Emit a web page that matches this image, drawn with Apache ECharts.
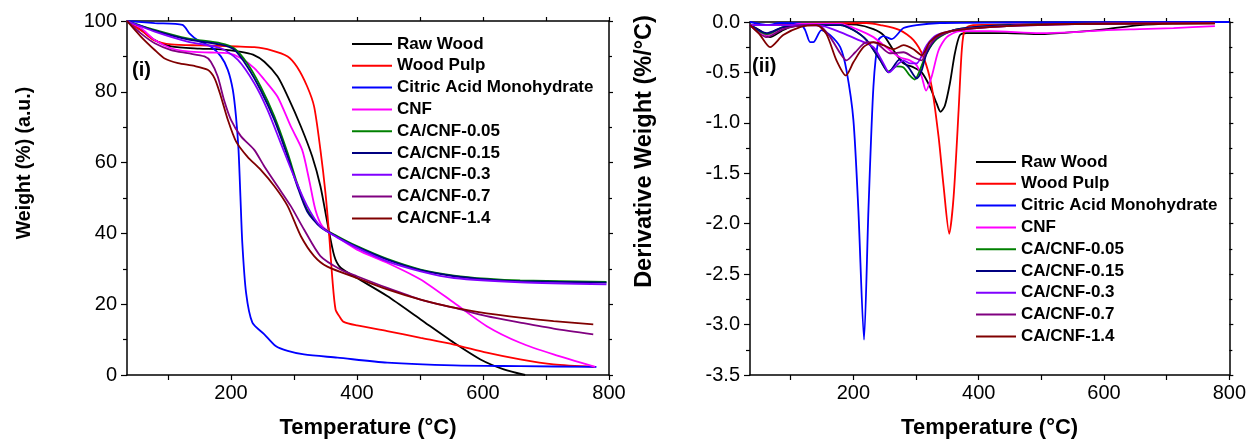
<!DOCTYPE html>
<html>
<head>
<meta charset="utf-8">
<script src="https://cdn.jsdelivr.net/npm/echarts@6/dist/echarts.min.js"></script>
<style>
  html, body { margin: 0; padding: 0; background: #fff; }
  #chart { width: 1249px; height: 444px; }
</style>
</head>
<body>
<div id="chart"></div>
<script>
const seriesNames = ['Raw Wood', 'Wood Pulp', 'Citric Acid Monohydrate', 'CNF', 'CA/CNF-0.05', 'CA/CNF-0.15', 'CA/CNF-0.3', 'CA/CNF-0.7', 'CA/CNF-1.4'];
const seriesColors = ['#000000', '#ff0000', '#0000ff', '#ff00ff', '#008000', '#000080', '#8000ff', '#800080', '#800000'];

const xTicks = [100, 200, 300, 400, 500, 600, 700, 800];
const xLabels = [200, 400, 600, 800];

// (i) weight (%) vs temperature
const rawWoodTGA = [[35,100],[57,97.5],[79,94.6],[105,92.8],[150,92.2],[184,92],[216,91.3],[235,90.5],[253,88.5],[274,84.3],[290,78.7],[311,70.2],[329,61.7],[342,53.3],[353,43],[364,33.6],[374,30.3],[400,27.4],[448,22.3],[501,15.7],[554,9.1],[596,4.4],[633,1.6],[667,0]];
const woodPulpTGA = [[35,100],[60,97],[79,94.5],[105,93.4],[150,93.1],[210,92.8],[237,92.6],[263,91.8],[290,90],[305,87],[321,81.5],[332,75.8],[342,63.6],[350,51.4],[356,39.2],[361,27],[366,18.5],[372,16.6],[379,15],[400,14],[448,12.4],[501,10.5],[554,8.6],[606,6.3],[659,4.4],[712,3],[778,2.3]];
const citricTGA = [[35,100],[79,99.4],[123,98.9],[134,96.5],[147,94.6],[168,92.8],[184,90],[195,86.2],[203,80.5],[208,73],[212,63.6],[215,50.5],[218,37.3],[224,23.2],[234,14.8],[253,11.5],[271,8.2],[290,6.8],[316,5.8],[369,4.9],[448,3.5],[554,2.7],[659,2.5],[780,2.3]];
const cnfTGA = [[35,100],[57,98],[79,94.6],[105,92.3],[131,91.4],[168,91.1],[195,90.9],[216,89.5],[237,86.7],[253,83.4],[274,78.6],[295,70.2],[313,63.6],[324,55.2],[334,46.7],[345,42],[360,40],[400,35.4],[448,31.7],[501,27],[554,20.4],[606,13.8],[659,9.1],[712,5.8],[778,2.3]];
const ca005TGA = [[35,100],[79,97.5],[131,95.1],[184,93.7],[205,92.3],[226,88],[247,81.5],[269,73],[290,62.7],[305,54.2],[321,46.7],[342,42],[369,39.2],[400,36.4],[448,32.8],[501,29.8],[554,28.1],[606,27.2],[659,26.7],[796,26.3]];
const ca015TGA = [[35,100],[79,97.3],[131,94.8],[184,93.3],[205,91.9],[226,87.1],[247,80.5],[269,72],[290,61.7],[305,53.5],[321,46.2],[342,41.8],[369,39],[400,36.2],[448,32.6],[501,29.6],[554,27.9],[606,27],[659,26.5],[796,26.1]];
const ca03TGA = [[35,100],[79,97],[131,94.2],[184,92.3],[211,89],[237,82.4],[258,74.9],[279,65.5],[300,56.1],[321,47.7],[342,42],[369,38.8],[400,35.9],[448,32.1],[501,29.3],[554,27.4],[659,26.2],[796,25.6]];
const ca07TGA = [[35,100],[57,96.5],[79,93.7],[105,91.8],[131,90.9],[158,90],[168,88.5],[179,84.3],[189,77.7],[200,72.1],[216,67.4],[237,63.6],[253,58.9],[274,53.3],[295,47.7],[316,41.1],[342,33.6],[374,29.8],[400,27.9],[448,24.6],[501,21.3],[554,19],[606,16.6],[659,14.8],[712,13.1],[775,11.5]];
const ca14TGA = [[35,100],[57,95.6],[79,91.8],[94,89.5],[116,88.1],[142,87.3],[163,86.2],[174,83.8],[184,78.7],[195,72.1],[208,66],[226,61.7],[247,58],[269,53.3],[290,47.7],[311,39.2],[332,33.6],[353,30.6],[400,27.4],[448,24.2],[501,21.3],[554,19],[606,17.4],[659,16.2],[712,15.2],[775,14.3]];

// (ii) derivative weight (%/°C) vs temperature
const rawWoodDTG = [[35,-0.03],[50,-0.08],[67,-0.15],[85,-0.09],[99,-0.05],[126,-0.03],[179,-0.02],[205,-0.025],[232,-0.07],[248,-0.13],[264,-0.28],[280,-0.41],[296,-0.45],[309,-0.5],[322,-0.64],[333,-0.81],[339,-0.89],[346,-0.83],[354,-0.61],[362,-0.31],[370,-0.13],[381,-0.11],[445,-0.11],[498,-0.12],[551,-0.1],[604,-0.07],[657,-0.03],[711,-0.015],[777,-0.01]];
const woodPulpDTG = [[35,-0.03],[70,-0.03],[120,-0.02],[221,-0.01],[243,-0.03],[274,-0.08],[296,-0.18],[312,-0.35],[325,-0.64],[336,-1.14],[344,-1.63],[353,-2.1],[360,-1.73],[368,-0.87],[373,-0.28],[378,-0.07],[391,-0.03],[445,-0.025],[551,-0.02],[657,-0.015],[777,-0.01]];
const citricDTG = [[35,0],[62,-0.03],[83,-0.01],[115,-0.015],[123,-0.08],[131,-0.2],[136,-0.2],[149,-0.08],[163,-0.13],[179,-0.25],[189,-0.48],[200,-0.97],[208,-1.87],[217,-3.15],[224,-1.87],[232,-0.64],[240,-0.18],[248,-0.14],[261,-0.17],[280,-0.06],[301,-0.03],[338,-0.01],[445,-0.005],[800,0]];
const cnfDTG = [[35,-0.03],[62,-0.13],[83,-0.07],[115,-0.02],[179,-0.02],[205,-0.07],[232,-0.15],[258,-0.28],[274,-0.35],[290,-0.38],[301,-0.43],[309,-0.54],[316,-0.68],[325,-0.54],[336,-0.28],[349,-0.15],[370,-0.09],[418,-0.09],[498,-0.11],[551,-0.1],[604,-0.08],[657,-0.07],[711,-0.06],[777,-0.04]];
const ca005DTG = [[35,-0.03],[62,-0.12],[88,-0.05],[126,-0.03],[179,-0.03],[200,-0.08],[221,-0.18],[243,-0.38],[256,-0.49],[269,-0.44],[280,-0.45],[290,-0.53],[298,-0.57],[306,-0.48],[317,-0.31],[333,-0.17],[360,-0.08],[391,-0.05],[445,-0.03],[600,-0.015],[777,-0.01]];
const ca015DTG = [[35,-0.03],[62,-0.11],[88,-0.05],[126,-0.03],[179,-0.03],[200,-0.08],[221,-0.18],[243,-0.38],[256,-0.5],[274,-0.37],[288,-0.45],[301,-0.56],[309,-0.48],[317,-0.31],[333,-0.16],[360,-0.08],[391,-0.05],[445,-0.03],[600,-0.015],[777,-0.01]];
const ca03DTG = [[35,-0.03],[88,-0.03],[126,-0.03],[152,-0.04],[179,-0.1],[205,-0.17],[232,-0.25],[248,-0.41],[257,-0.5],[269,-0.43],[280,-0.38],[290,-0.41],[301,-0.41],[317,-0.23],[333,-0.13],[365,-0.08],[445,-0.04],[600,-0.015],[777,-0.01]];
const ca07DTG = [[35,-0.03],[62,-0.15],[88,-0.07],[126,-0.03],[147,-0.04],[163,-0.15],[179,-0.31],[189,-0.38],[203,-0.3],[221,-0.2],[237,-0.21],[258,-0.31],[280,-0.3],[296,-0.35],[309,-0.38],[317,-0.28],[333,-0.15],[365,-0.08],[445,-0.04],[600,-0.015],[777,-0.01]];
const ca14DTG = [[35,-0.03],[50,-0.12],[67,-0.25],[88,-0.13],[115,-0.05],[141,-0.03],[157,-0.12],[173,-0.38],[188,-0.53],[200,-0.4],[216,-0.25],[232,-0.2],[248,-0.23],[264,-0.27],[280,-0.23],[296,-0.27],[309,-0.33],[322,-0.2],[338,-0.12],[365,-0.08],[445,-0.04],[551,-0.02],[777,-0.015]];

const tgaData = [rawWoodTGA, woodPulpTGA, citricTGA, cnfTGA, ca005TGA, ca015TGA, ca03TGA, ca07TGA, ca14TGA];
const dtgData = [rawWoodDTG, woodPulpDTG, citricDTG, cnfDTG, ca005DTG, ca015DTG, ca03DTG, ca07DTG, ca14DTG];

const FONT = 'Arial, "Liberation Sans", sans-serif';
const black = '#000';

function bottomX(grid) {
  return {
    type: 'value', gridIndex: grid, min: 35, max: 800, position: 'bottom',
    splitLine: { show: false },
    axisLine: { onZero: false, lineStyle: { color: black, width: 1.5 } },
    axisTick: { customValues: xTicks, length: 5, lineStyle: { color: black, width: 1.2 } },
    axisLabel: { customValues: xLabels, fontSize: 20, color: black, fontFamily: FONT, margin: 8 },
    name: 'Temperature (°C)', nameLocation: 'middle', nameGap: 42,
    nameTextStyle: { fontSize: 22, fontWeight: 'bold', color: black, fontFamily: FONT }
  };
}
function topX(grid) {
  return {
    type: 'value', gridIndex: grid, min: 35, max: 800, position: 'top',
    splitLine: { show: false },
    axisLine: { onZero: false, lineStyle: { color: black, width: 1.5 } },
    axisTick: { customValues: xTicks, length: 4, lineStyle: { color: black, width: 1.2 } },
    axisLabel: { show: false }
  };
}

const chart = echarts.init(document.getElementById('chart'));

const series = [];
seriesNames.forEach((name, i) => {
  series.push({
    name, type: 'line', xAxisIndex: 0, yAxisIndex: 0, data: tgaData[i],
    showSymbol: false, smooth: 0.25, clip: true,
    lineStyle: { color: seriesColors[i], width: 1.8 }, itemStyle: { color: seriesColors[i] }
  });
  series.push({
    name, type: 'line', xAxisIndex: 2, yAxisIndex: 2, data: dtgData[i],
    showSymbol: false, smooth: 0.25, clip: true,
    lineStyle: { color: seriesColors[i], width: 1.8 }, itemStyle: { color: seriesColors[i] }
  });
});

const legendBase = {
  orient: 'vertical', icon: 'rect', itemWidth: 40, itemHeight: 2, itemGap: 1.8,
  selectedMode: false, data: seriesNames,
  textStyle: { fontSize: 17, fontWeight: 'bold', color: black, fontFamily: FONT, lineHeight: 20 }
};

chart.setOption({
  backgroundColor: '#fff',
  animation: false,
  grid: [
    { left: 127, top: 21, width: 482, height: 355 },
    { left: 750, top: 22, width: 480, height: 353 }
  ],
  xAxis: [bottomX(0), topX(0), bottomX(1), topX(1)],
  yAxis: [
    {
      type: 'value', gridIndex: 0, min: 0, max: 100, interval: 20, position: 'left',
      splitLine: { show: false },
      axisLine: { show: true, onZero: false, lineStyle: { color: black, width: 1.5 } },
      axisTick: { length: 6, lineStyle: { color: black, width: 1.2 } },
      minorTick: { show: true, splitNumber: 2, length: 4, lineStyle: { color: black, width: 1.2 } },
      axisLabel: { fontSize: 20, color: black, fontFamily: FONT, margin: 10 },
      name: 'Weight (%) (a.u.)', nameLocation: 'middle', nameGap: 92,
      nameTextStyle: { fontSize: 19.5, fontWeight: 'bold', color: black, fontFamily: FONT, padding: [0, 0, 0, 70] }
    },
    {
      type: 'value', gridIndex: 0, min: 0, max: 100, interval: 20, position: 'right',
      splitLine: { show: false },
      axisLine: { show: true, onZero: false, lineStyle: { color: black, width: 1.5 } },
      axisTick: { length: 4, lineStyle: { color: black, width: 1.2 } },
      minorTick: { show: true, splitNumber: 2, length: 3, lineStyle: { color: black, width: 1.2 } },
      axisLabel: { show: false }
    },
    {
      type: 'value', gridIndex: 1, min: -3.5, max: 0, interval: 0.5, position: 'left',
      splitLine: { show: false },
      axisLine: { show: true, onZero: false, lineStyle: { color: black, width: 1.5 } },
      axisTick: { length: 6, lineStyle: { color: black, width: 1.2 } },
      minorTick: { show: true, splitNumber: 2, length: 4, lineStyle: { color: black, width: 1.2 } },
      axisLabel: { fontSize: 20, color: black, fontFamily: FONT, margin: 10, formatter: v => v.toFixed(1) },
      name: 'Derivative Weight (%/°C)', nameLocation: 'middle', nameGap: 93,
      nameTextStyle: { fontSize: 23.5, fontWeight: 'bold', color: black, fontFamily: FONT, padding: [0, 0, 0, 94] }
    },
    {
      type: 'value', gridIndex: 1, min: -3.5, max: 0, interval: 0.5, position: 'right',
      splitLine: { show: false },
      axisLine: { show: true, onZero: false, lineStyle: { color: black, width: 1.5 } },
      axisTick: { length: 4, lineStyle: { color: black, width: 1.2 } },
      minorTick: { show: true, splitNumber: 2, length: 3, lineStyle: { color: black, width: 1.2 } },
      axisLabel: { show: false }
    }
  ],
  legend: [
    Object.assign({}, legendBase, { left: 347, top: 29 }),
    Object.assign({}, legendBase, { left: 971, top: 147 })
  ],
  graphic: [
    { type: 'text', left: 132, top: 60, style: { text: '(i)', font: 'bold 20px ' + FONT, fill: black } },
    { type: 'text', left: 752, top: 56, style: { text: '(ii)', font: 'bold 20px ' + FONT, fill: black } }
  ],
  series
});
</script>
</body>
</html>
